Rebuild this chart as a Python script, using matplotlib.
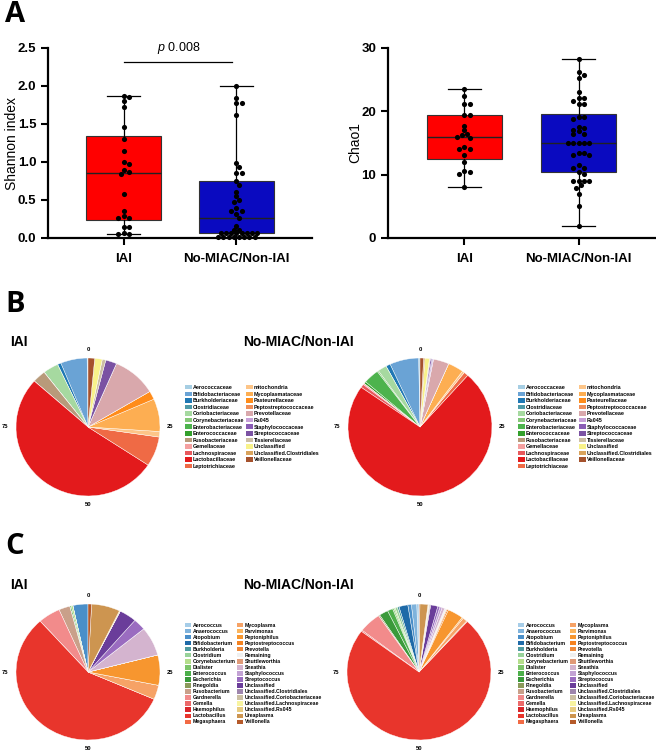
import numpy as np
import matplotlib.pyplot as plt
from matplotlib.patches import Patch

plt.rcParams['font.family'] = ['Liberation Sans', 'DejaVu Sans']
plt.rcParams['font.weight'] = 'bold'
plt.rcParams['mathtext.fontset'] = 'custom'
plt.rcParams['mathtext.it'] = 'Liberation Sans:style=italic:weight=normal'
plt.rcParams['mathtext.rm'] = 'Liberation Sans:weight=normal'

# ---- Panel A data ----
groups = ['IAI', 'No-MIAC/Non-IAI']
shannon_iai = [1.87, 1.85, 1.80, 1.72, 1.46, 1.30, 1.15, 1.00, 0.98, 0.89, 0.87,
               0.84, 0.58, 0.35, 0.29, 0.26, 0.26, 0.15, 0.15, 0.07, 0.05, 0.05]
shannon_non = [2.00, 1.84, 1.77, 1.77, 1.62, 0.99, 0.94, 0.85, 0.85, 0.75, 0.70,
               0.61, 0.55, 0.50, 0.47, 0.39, 0.36, 0.35, 0.31, 0.26, 0.16, 0.11, 0.11,
               0.06, 0.06, 0.06, 0.06, 0.06, 0.06, 0.06, 0.06,
               0.01, 0.01, 0.01, 0.01, 0.01, 0.01, 0.01, 0.01]
chao1_iai = [23.6, 22.4, 21.1, 21.1, 19.4, 19.5, 17.7, 17.0, 16.4, 16.3, 15.8, 15.9,
             14.4, 14.1, 14.1, 13.1, 12.0, 10.6, 10.4, 10.1, 8.0]
chao1_non = [28.2, 26.2, 25.7, 25.2, 23.1, 22.1, 22.1, 21.6, 21.1, 21.1, 19.1, 19.1,
             18.8, 17.6, 17.3, 17.1, 16.9, 16.5, 16.4, 15.0, 15.0, 15.0, 15.0, 15.0,
             13.5, 13.5, 13.1, 13.1, 11.5, 11.0, 11.0, 10.5, 10.1, 9.0, 9.0, 9.0, 9.0,
             8.4, 7.9, 7.0, 5.0, 1.9]
box_colors = ['#ff0000', '#0a0ac0']

# ---- Panel B data (family level, % of reads) ----
family_labels = ['Aerococcaceae', 'Bifidobacteriaceae', 'Burkholderiaceae', 'Clostridiaceae',
                 'Coriobacteriaceae', 'Corynebacteriaceae', 'Enterobacteriaceae',
                 'Enterococcaceae', 'Fusobacteriaceae', 'Gemellaceae', 'Lachnospiraceae',
                 'Lactobacillaceae', 'Leptotrichiaceae', 'mitochondria', 'Mycoplasmataceae',
                 'Pasteurellaceae', 'Peptostreptococcaceae', 'Prevotellaceae', 'Rs045',
                 'Staphylococcaceae', 'Streptococcaceae', 'Tissierellaceae', 'Unclassified',
                 'Unclassified.Clostridiales', 'Veillonellaceae']
family_colors = ['#a6cee3', '#6aa3d5', '#1f78b4', '#4e9aa8', '#a6d9a0', '#87c878', '#4db34d',
                 '#33a02c', '#b89a7a', '#f4a0a0', '#e8595d', '#e31a1c', '#ef6a45', '#fdc588',
                 '#fdae52', '#ff8c1a', '#f0905a', '#d9a8ac', '#c7a0d8', '#8a5cb5', '#7b52a3',
                 '#cdbfa5', '#f8f28a', '#d9a35c', '#a5522d']
family_iai = [0.2, 6.0, 0.8, 0.0, 3.5, 0.0, 0.0, 0.0, 3.0, 0.0, 0.0, 52.6, 7.0, 1.3, 7.7,
              2.0, 0.0, 10.0, 0.0, 0.0, 2.5, 0.8, 1.7, 0.0, 1.5]
family_non = [0.3, 6.5, 1.0, 0.0, 2.0, 0.3, 3.5, 0.5, 0.0, 0.3, 0.8, 73.0, 1.0, 0.5, 3.5,
              0.0, 0.0, 3.5, 0.2, 0.2, 0.3, 0.2, 1.0, 0.3, 0.8]

# ---- Panel C data (genus level, % of reads) ----
genus_labels = ['Aerococcus', 'Anaerococcus', 'Atopobium', 'Bifidobacterium', 'Burkholderia',
                'Clostridium', 'Corynebacterium', 'Dialister', 'Enterococcus', 'Escherichia',
                'Finegoldia', 'Fusobacterium', 'Gardnerella', 'Gemella', 'Haemophilus',
                'Lactobacillus', 'Megasphaera', 'Mycoplasma', 'Parvimonas', 'Peptoniphilus',
                'Peptostreptococcus', 'Prevotella', 'Remaining', 'Shuttleworthia', 'Sneathia',
                'Staphylococcus', 'Streptococcus', 'Unclassified', 'Unclassified.Clostridiales',
                'Unclassified.Coriobacteriaceae', 'Unclassified.Lachnospiraceae',
                'Unclassified.Rs045', 'Ureaplasma', 'Veillonella']
genus_colors = ['#a6cde8', '#7fb3dc', '#4a8fc9', '#1f6aa8', '#4e9aa0', '#98d29a', '#b5de8c',
                '#7cc46a', '#4caf4a', '#3a9a3a', '#8c9a5b', '#c9a08a', '#f28b8b', '#ec6a6a',
                '#d9262a', '#e8352c', '#f26a44', '#f6a266', '#fbb45c', '#f7962f', '#f58220',
                '#f08a3a', '#f0f0f0', '#e09a78', '#d4b4cf', '#c2a2d4', '#9a6cc0', '#6a3d9a',
                '#9e85ad', '#cbbfa3', '#f8f4a0', '#e8cc80', '#cd9550', '#b55a2a']
genus_iai = [0.0, 0.0, 3.4, 0.0, 0.0, 0.0, 0.4, 0.0, 0.3, 0.0, 0.0, 2.5, 5.0, 0.0, 0.0,
             57.0, 0.0, 3.4, 0.0, 7.2, 0.0, 0.0, 0.0, 0.0, 6.9, 0.0, 2.8, 3.9, 0.0, 0.0,
             0.0, 0.2, 6.4, 0.8]
genus_non = [0.5, 1.2, 0.8, 2.0, 0.4, 0.5, 0.3, 0.3, 1.2, 2.0, 0.3, 0.0, 5.0, 0.3, 0.0,
             73.5, 0.2, 1.0, 0.3, 3.5, 0.3, 0.2, 0.3, 0.1, 0.6, 0.5, 0.5, 1.6, 0.2, 0.2,
             0.1, 0.1, 1.8, 0.2]

pie_ticks = ['0', '25', '50', '75']

W, H = 656, 753
fig = plt.figure(figsize=(W / 100, H / 100), dpi=100)


def px_axes(x0, y0, x1, y1):
    return fig.add_axes([x0 / W, 1 - y1 / H, (x1 - x0) / W, (y1 - y0) / H])


def swarm_x(ax, values, center, dot_px):
    # simple beeswarm: shift points sideways until they stop overlapping too much
    pts = ax.transData.transform([(center, v) for v in values])
    px_unit = ax.transData.transform([(center + 1, 0)])[0][0] - pts[0][0]
    placed = []
    xs = []
    for _, py in pts:
        k = 0
        while True:
            off = ((k + 1) // 2) * (1 if k % 2 else -1) * dot_px * 0.5
            if all((off - qx) ** 2 + (py - qy) ** 2 >= (dot_px * 0.82) ** 2 for qx, qy in placed):
                break
            k += 1
        placed.append((off, py))
        xs.append(center + off / px_unit)
    return xs


def box_stats(vals):
    q1, med, q3 = np.percentile(vals, [25, 50, 75], method='weibull')
    return dict(med=med, q1=q1, q3=q3, whislo=min(vals), whishi=max(vals), fliers=[])


def box_panel(ax, data, ylim, yticks, ylabel, fmt, label_x):
    ax.set_xlim(0.33, 2.67)
    ax.set_ylim(*ylim)
    bp = ax.bxp([box_stats(v) for v in data], positions=[1, 2], widths=0.66,
                patch_artist=True, showfliers=False, capwidths=0.29,
                medianprops=dict(color='#222222', lw=1),
                boxprops=dict(edgecolor='#333333', lw=0.8),
                whiskerprops=dict(color='black', lw=0.9),
                capprops=dict(color='black', lw=0.9))
    for patch, c in zip(bp['boxes'], box_colors):
        patch.set_facecolor(c)
    for i, vals in enumerate(data):
        xs = swarm_x(ax, vals, i + 1, 5.2)
        ax.plot(xs, vals, 'o', color='black', ms=3.7, mec='none', zorder=3, clip_on=False)
    for s in ['top', 'right']:
        ax.spines[s].set_visible(False)
    for s in ['left', 'bottom']:
        ax.spines[s].set_linewidth(1.6)
    ax.set_yticks(yticks)
    ax.set_yticklabels([fmt.format(t) for t in yticks])
    ax.set_xticks([1, 2])
    ax.set_xticklabels(groups)
    ax.tick_params(axis='both', direction='out', length=5, width=1.5, labelsize=9.5)
    ax.tick_params(axis='x', pad=6)
    ax.set_ylabel(ylabel, fontsize=10)
    ax.yaxis.set_label_coords(label_x, 0.5)


ax1 = px_axes(48, 48, 312, 238)
box_panel(ax1, [shannon_iai, shannon_non], (0, 2.5), np.arange(0, 2.51, 0.5),
          'Shannon index', '{:.1f}', -0.108)
ax1.plot([1, 1.96], [2.32, 2.32], color='black', lw=0.9, clip_on=False)
ax1.text(1.49, 2.5, r'$\it{p}$ 0.008', ha='center', va='center', fontsize=9,
         fontweight='normal')

ax2 = px_axes(388, 48, 655, 238)
box_panel(ax2, [chao1_iai, chao1_non], (0, 30), [0, 10, 20, 30], 'Chao1', '{:.0f}', -0.098)


def pie_panel(cx, cy, rx, ry, vals, colors):
    ax = px_axes(cx - rx, cy - ry, cx + rx, cy + ry)
    ax.pie(vals, colors=colors, startangle=90, counterclock=True, radius=1,
           wedgeprops=dict(lw=0.3, edgecolor='white'))
    ax.set_aspect('auto')
    ax.set_xlim(-1, 1)
    ax.set_ylim(-1, 1)
    for lab, (tx, ty) in zip(pie_ticks, [(0, 1.12), (1.14, 0), (0, -1.12), (-1.15, 0)]):
        ax.text(tx, ty, lab, ha='center', va='center', fontsize=4.2)
    return ax


def legend_at(x, y, labels, colors, fontsize, spacing):
    handles = [Patch(facecolor=c, edgecolor='none', label=l) for l, c in zip(labels, colors)]
    fig.legend(handles=handles, loc='upper left', bbox_to_anchor=(x / W, 1 - y / H),
               ncol=2, frameon=False, fontsize=fontsize, handlelength=1.25, handleheight=0.9,
               handletextpad=0.25, labelspacing=spacing, columnspacing=0.25,
               borderpad=0, borderaxespad=0)


# Panel B
pie_panel(88, 427, 72, 69, family_iai, family_colors)
pie_panel(420, 427, 72, 69, family_non, family_colors)
legend_at(185, 385, family_labels, family_colors, 3.9, 0.27)
legend_at(518, 385, family_labels, family_colors, 3.9, 0.27)

# Panel C
pie_panel(88, 672, 72, 68, genus_iai, genus_colors)
pie_panel(419, 672, 72, 68, genus_non, genus_colors)
legend_at(185, 623, genus_labels, genus_colors, 3.7, 0.2)
legend_at(518, 623, genus_labels, genus_colors, 3.7, 0.2)

# titles and panel letters
for title_y in [342, 585]:
    fig.text(10 / W, 1 - title_y / H, 'IAI', fontsize=10, va='center')
    fig.text(243 / W, 1 - title_y / H, 'No-MIAC/Non-IAI', fontsize=10, va='center')
for letter, yc in [('A', 14), ('B', 304), ('C', 546)]:
    fig.text(5 / W, 1 - yc / H, letter, fontsize=21, fontweight='bold', va='center',
             family=['Open Sans', 'DejaVu Sans'])

fig.savefig('out.png', dpi=100)
